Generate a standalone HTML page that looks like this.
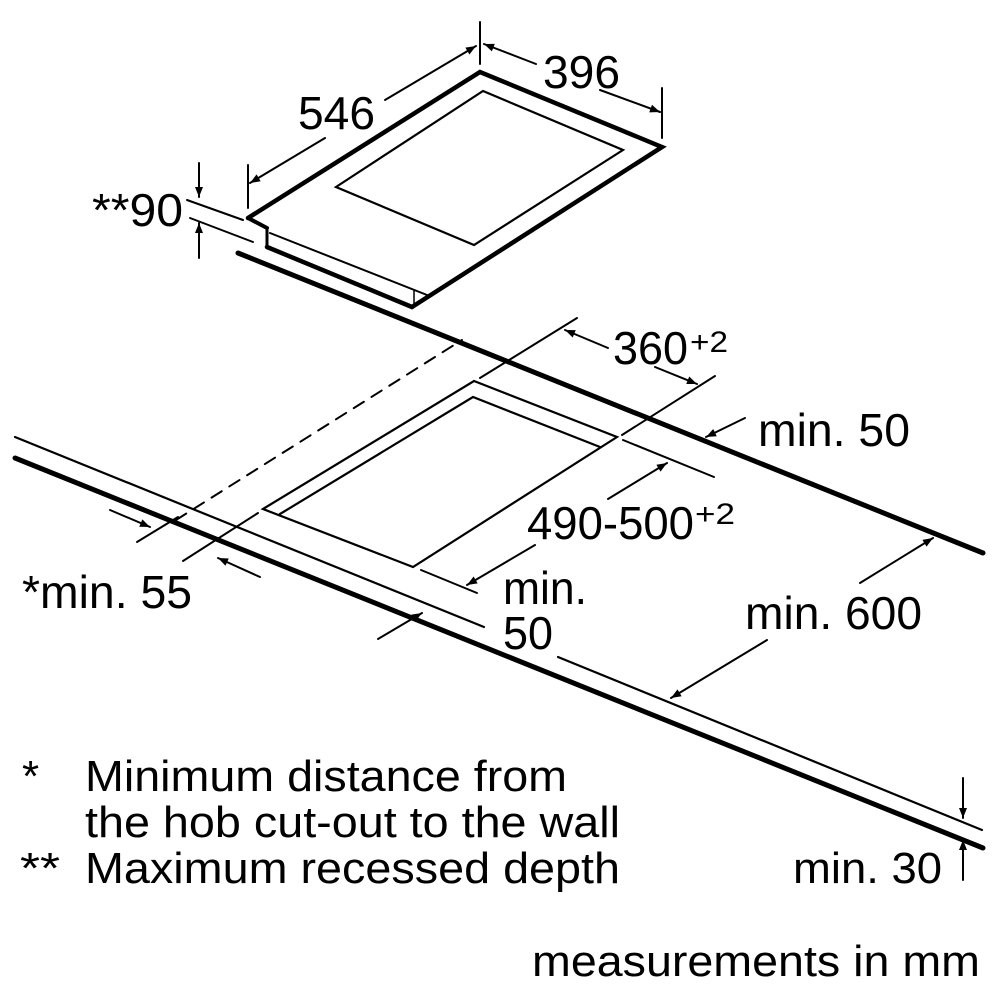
<!DOCTYPE html>
<html><head><meta charset="utf-8"><style>html,body{margin:0;padding:0;background:#fff}svg{display:block}text{font-family:"Liberation Sans",sans-serif;fill:#000}</style></head>
<body>
<svg width="1000" height="1000" viewBox="0 0 1000 1000" xmlns="http://www.w3.org/2000/svg">
<defs>
<marker id="a" viewBox="0 0 10 10" refX="10" refY="5" markerWidth="12" markerHeight="10" markerUnits="userSpaceOnUse" orient="auto"><path d="M0,1 L10,5 L0,9 Z" fill="#000"/></marker>
</defs>
<g fill="none" stroke="#000" stroke-linecap="round">
<polyline points="248,218 480,72 662,147 412,307" stroke-width="4.5"/>
<polygon points="336,187 483,91 623,150 474,245" stroke-width="2.2"/>
<line x1="248" y1="218" x2="267" y2="228" stroke-width="4"/>
<line x1="267" y1="228" x2="267" y2="247" stroke-width="3"/>
<line x1="267" y1="247" x2="412" y2="307" stroke-width="4.5"/>
<line x1="270" y1="233" x2="427" y2="295" stroke-width="2"/>
<line x1="414" y1="290" x2="414" y2="305" stroke-width="1.5"/>
<line x1="248" y1="165" x2="248" y2="208" stroke-width="2"/>
<line x1="480" y1="22" x2="480" y2="64" stroke-width="2"/>
<line x1="662" y1="88" x2="662" y2="138" stroke-width="2"/>
<line x1="325" y1="138" x2="250" y2="183" stroke-width="2" marker-end="url(#a)"/>
<line x1="385" y1="100" x2="476" y2="46" stroke-width="2" marker-end="url(#a)"/>
<line x1="536" y1="64" x2="484" y2="44" stroke-width="2" marker-end="url(#a)"/>
<line x1="600" y1="90" x2="660" y2="112" stroke-width="2" marker-end="url(#a)"/>
<line x1="187" y1="200" x2="243" y2="220" stroke-width="2"/>
<line x1="190" y1="218" x2="253" y2="242" stroke-width="2"/>
<line x1="199" y1="163" x2="199" y2="197" stroke-width="2" marker-end="url(#a)"/>
<line x1="199" y1="258" x2="199" y2="223" stroke-width="2" marker-end="url(#a)"/>
<line x1="238" y1="253" x2="983" y2="553" stroke-width="5"/>
<line x1="15" y1="437" x2="484" y2="627" stroke-width="2.2"/>
<line x1="558" y1="657" x2="982" y2="830" stroke-width="2.2"/>
<line x1="15" y1="458" x2="983" y2="848" stroke-width="5"/>
<polygon points="263,509 474,381 617,437 413,567" stroke-width="2.2"/>
<polyline points="280,514 473,397 600,447" stroke-width="2.2"/>
<line x1="176" y1="520" x2="462" y2="340" stroke-width="2" stroke-dasharray="12,9"/>
<line x1="137" y1="542" x2="178" y2="517" stroke-width="2"/>
<line x1="183" y1="561" x2="258" y2="513" stroke-width="2"/>
<line x1="577" y1="318" x2="480" y2="378" stroke-width="2"/>
<line x1="715" y1="376" x2="622" y2="435" stroke-width="2"/>
<line x1="623" y1="440" x2="714" y2="477" stroke-width="2"/>
<line x1="421" y1="570" x2="477" y2="593" stroke-width="2"/>
<line x1="608" y1="348" x2="565" y2="330" stroke-width="2" marker-end="url(#a)"/>
<line x1="655" y1="367" x2="697" y2="384" stroke-width="2" marker-end="url(#a)"/>
<line x1="608" y1="499" x2="667" y2="463" stroke-width="2" marker-end="url(#a)"/>
<line x1="535" y1="545" x2="467" y2="585" stroke-width="2" marker-end="url(#a)"/>
<line x1="745" y1="418" x2="706" y2="437" stroke-width="2" marker-end="url(#a)"/>
<line x1="860" y1="583" x2="933" y2="538" stroke-width="2" marker-end="url(#a)"/>
<line x1="767" y1="640" x2="671" y2="698" stroke-width="2" marker-end="url(#a)"/>
<line x1="110" y1="510" x2="150" y2="527" stroke-width="2" marker-end="url(#a)"/>
<line x1="260" y1="577" x2="218" y2="558" stroke-width="2" marker-end="url(#a)"/>
<line x1="378" y1="639" x2="422" y2="613" stroke-width="2" marker-end="url(#a)"/>
<line x1="963" y1="778" x2="963" y2="818" stroke-width="2" marker-end="url(#a)"/>
<line x1="963" y1="880" x2="963" y2="840" stroke-width="2" marker-end="url(#a)"/>
</g>
<g font-size="46">
<text x="298" y="129" textLength="77" lengthAdjust="spacingAndGlyphs">546</text>
<text x="543" y="88" textLength="77" lengthAdjust="spacingAndGlyphs">396</text>
<text x="92" y="226" textLength="91" lengthAdjust="spacingAndGlyphs">**90</text>
<text x="613" y="364" textLength="75" lengthAdjust="spacingAndGlyphs">360</text>
<text x="690" y="352" font-size="30" textLength="38" lengthAdjust="spacingAndGlyphs">+2</text>
<text x="758" y="446" textLength="152" lengthAdjust="spacingAndGlyphs">min. 50</text>
<text x="527" y="539" textLength="167" lengthAdjust="spacingAndGlyphs">490-500</text>
<text x="695" y="524" font-size="30" textLength="40" lengthAdjust="spacingAndGlyphs">+2</text>
<text x="22" y="608" textLength="170" lengthAdjust="spacingAndGlyphs">*min. 55</text>
<text x="503" y="604" textLength="84" lengthAdjust="spacingAndGlyphs">min.</text>
<text x="503" y="649" textLength="50" lengthAdjust="spacingAndGlyphs">50</text>
<text x="745" y="629" textLength="177" lengthAdjust="spacingAndGlyphs">min. 600</text>
</g>
<g font-size="44">
<text x="22" y="791">*</text>
<text x="85" y="791" textLength="482" lengthAdjust="spacingAndGlyphs">Minimum distance from</text>
<text x="85" y="837" textLength="535" lengthAdjust="spacingAndGlyphs">the hob cut-out to the wall</text>
<text x="20" y="883" textLength="40" lengthAdjust="spacingAndGlyphs">**</text>
<text x="85" y="883" textLength="535" lengthAdjust="spacingAndGlyphs">Maximum recessed depth</text>
<text x="793" y="883" textLength="149" lengthAdjust="spacingAndGlyphs">min. 30</text>
<text x="532" y="976" textLength="448" lengthAdjust="spacingAndGlyphs">measurements in mm</text>
</g>
</svg>
</body></html>
